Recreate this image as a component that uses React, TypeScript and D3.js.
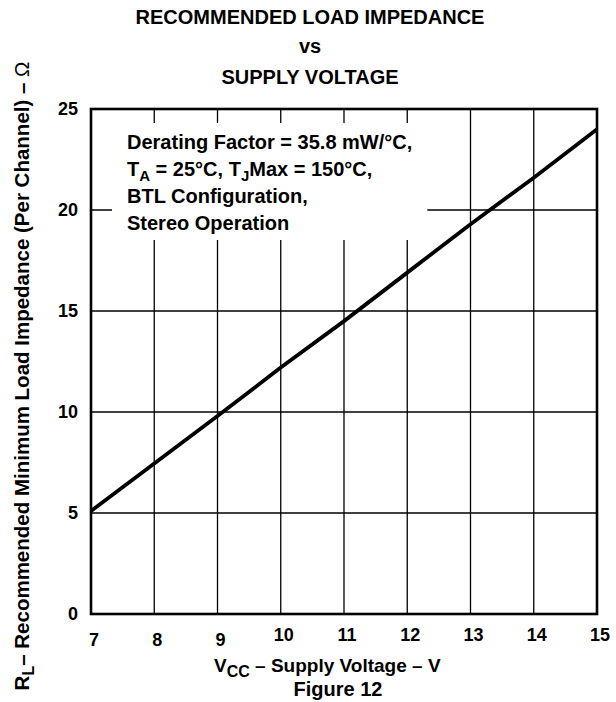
import * as d3 from 'd3'
import { useEffect, useRef } from 'react'

// supply voltage (V) and recommended minimum load impedance (ohm)
const supplyVoltage = [7, 8, 9, 10, 11, 12, 13, 14, 15]
const loadImpedance = [5.1, 7.45, 9.8, 12.2, 14.5, 16.9, 19.3, 21.6, 24.0]

const xTickValues = [7, 8, 9, 10, 11, 12, 13, 14, 15]
const yTickValues = [0, 5, 10, 15, 20, 25]

const titleLines = ['RECOMMENDED LOAD IMPEDANCE', 'vs', 'SUPPLY VOLTAGE']

// [text, subscript]
const noteLines: [string, string][][] = [
  [['Derating Factor = 35.8 mW/°C,', '']],
  [['T', 'A'], [' = 25°C, T', 'J'], ['Max = 150°C,', '']],
  [['BTL Configuration,', '']],
  [['Stereo Operation', '']],
]

const xTitle: [string, string][] = [['V', 'CC'], [' –  Supply Voltage – V', '']]
const yTitle: [string, string][] = [['R', 'L'], ['– Recommended Minimum Load Impedance (Per Channel) – ', '']]
const yTitleUnit = 'Ω'
const caption = 'Figure 12'

const width = 616
const height = 702
const font = '"Liberation Sans", Arial, Helvetica, sans-serif'

// writes text + subscript pieces as tspans
const writeRich = (
  text: d3.Selection<SVGTextElement, unknown, null, undefined>,
  parts: [string, string][],
  subSize: number,
  shift: number
) => {
  parts.forEach(([main, sub], i) => {
    const t = text.append('tspan').text(main)
    if (i > 0 && parts[i - 1][1]) t.attr('dy', -shift)
    if (sub) text.append('tspan').text(sub).attr('dy', shift).style('font-size', `${subSize}px`)
  })
}

const App = () => {
  const svgRef = useRef<SVGSVGElement>(null)

  useEffect(() => {
    const svg = d3.select(svgRef.current)
    svg.selectAll('*').remove()

    const margin = { top: 109, left: 91, right: 19, bottom: 88 }

    const xScale = d3
      .scaleLinear()
      .domain([7, 15])
      .range([margin.left, width - margin.right])
    const yScale = d3
      .scaleLinear()
      .domain([0, 25])
      .range([height - margin.bottom, margin.top])

    const g = svg.append('g').style('font-family', font).style('font-weight', 'bold')

    // title
    g.append('g')
      .selectAll('text')
      .data(titleLines)
      .enter()
      .append('text')
      .attr('x', 310)
      .attr('y', (_, i) => [24, 53, 84][i])
      .attr('text-anchor', 'middle')
      .style('font-size', '20px')
      .text((d) => d)

    // grid
    g.append('g')
      .selectAll('line')
      .data(xTickValues.slice(1, -1))
      .enter()
      .append('line')
      .attr('x1', (d) => xScale(d))
      .attr('x2', (d) => xScale(d))
      .attr('y1', yScale(0))
      .attr('y2', yScale(25))
      .attr('stroke', '#000')
      .attr('stroke-width', 1.3)
    g.append('g')
      .selectAll('line')
      .data(yTickValues.slice(1, -1))
      .enter()
      .append('line')
      .attr('x1', xScale(7))
      .attr('x2', xScale(15))
      .attr('y1', (d) => yScale(d))
      .attr('y2', (d) => yScale(d))
      .attr('stroke', '#000')
      .attr('stroke-width', 1.3)

    // note box (blanks the grid behind it)
    const noteBg = g.append('rect').attr('fill', '#fff')
    const note = g.append('g').style('font-size', '20px')
    noteLines.forEach((parts, i) => {
      const t = note
        .append('text')
        .attr('x', 127)
        .attr('y', 149 + i * 27)
      writeRich(t, parts, 15, 5)
    })
    const box = (note.node() as SVGGElement).getBBox()
    noteBg
      .attr('x', box.x - 15)
      .attr('y', box.y - 8)
      .attr('width', box.width + 30)
      .attr('height', box.height + 14)

    // frame
    g.append('rect')
      .attr('x', xScale(7))
      .attr('y', yScale(25))
      .attr('width', xScale(15) - xScale(7))
      .attr('height', yScale(0) - yScale(25))
      .attr('fill', 'none')
      .attr('stroke', '#000')
      .attr('stroke-width', 2.6)

    // curve
    const line = d3
      .line<number>()
      .x((d) => xScale(d))
      .y((_, i) => yScale(loadImpedance[i]))
    g.append('path')
      .datum(supplyVoltage)
      .attr('d', line)
      .attr('fill', 'none')
      .attr('stroke', '#000')
      .attr('stroke-width', 3.8)

    // y tick labels
    g.append('g')
      .selectAll('text')
      .data(yTickValues)
      .enter()
      .append('text')
      .attr('x', xScale(7) - 13)
      .attr('y', (d) => yScale(d))
      .attr('dy', '0.36em')
      .attr('text-anchor', 'end')
      .style('font-size', '18px')
      .text((d) => d)

    // x tick labels (single digits sit a bit lower in the original)
    g.append('g')
      .selectAll('text')
      .data(xTickValues)
      .enter()
      .append('text')
      .attr('x', (d) => xScale(d) + 3)
      .attr('y', (d) => (d < 10 ? 646 : 641))
      .attr('text-anchor', 'middle')
      .style('font-size', '18px')
      .text((d) => d)

    // x title
    const xt = g.append('text').attr('x', 214).attr('y', 672).style('font-size', '19px')
    writeRich(xt, xTitle, 16, 5)

    // y title
    const yt = g
      .append('text')
      .attr('transform', 'translate(29, 376) rotate(-90)')
      .attr('text-anchor', 'middle')
      .style('font-size', '20.5px')
    writeRich(yt, yTitle, 16, 5)
    yt.append('tspan').text(yTitleUnit).style('font-weight', 'normal')

    // caption
    g.append('text')
      .attr('x', 338)
      .attr('y', 696)
      .attr('text-anchor', 'middle')
      .style('font-size', '20px')
      .text(caption)
  }, [])

  return (
    <svg
      ref={svgRef}
      width={width}
      height={height}
      style={{ position: 'absolute', left: 0, top: 0, background: '#fff' }}
    />
  )
}

export default App
